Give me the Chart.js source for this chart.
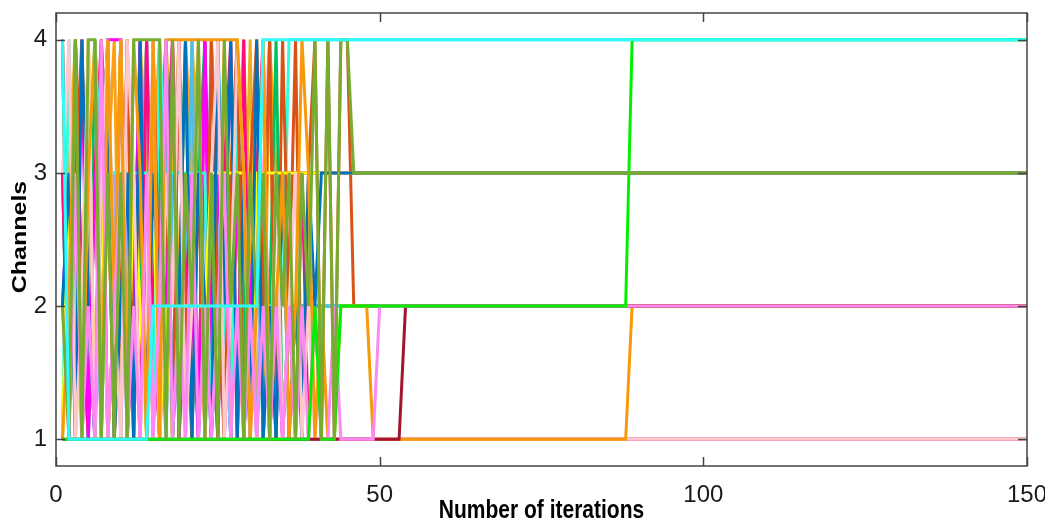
<!DOCTYPE html>
<html>
<head>
<meta charset="utf-8">
<script src="https://cdn.jsdelivr.net/npm/chart.js@4.4.1/dist/chart.umd.min.js"></script>
<style>
  html, body { margin: 0; padding: 0; background: #fff; }
</style>
</head>
<body>
<canvas id="mycanvas" width="1045" height="523"></canvas>
<script>
// channel picked by each user at iterations 1, 2, 3, ... until it settles;
// after the last entry the channel is held until the last iteration
var lastIteration = 150;
var xTicks = [0, 50, 100, 150];
var yTicks = [1, 2, 3, 4];
var xTitle = "Number of iterations";
var yTitle = "Channels";

var cyanCh = [4,1,1,1,1,1,1,1,1,1,1,1,1,1,2,2,2,2,2,2,2,2,2,2,2,2,2,2,2,2,2,4];
var oliveCh = [2,1,4,1,4,4,1,3,1,3,1,4,4,4,4,4,1,4,1,3,2,4,1,3,1,4,2,3,1,3,2,3,1,3,2,3,1,3,2,4,1,4,1,4,4,3];
var greenCh = [1,1,1,1,1,1,1,1,1,1,1,1,1,1,1,1,1,1,1,1,1,1,1,1,1,1,1,1,1,1,1,1,1,1,1,1,1,1,1,2,1,1,1,
  2,2,2,2,2,2,2,2,2,2,2,2,2,2,2,2,2,2,2,2,2,2,2,2,2,2,2,2,2,2,2,2,2,2,2,2,2,2,2,2,2,2,2,2,2,4];
var violetCh = [2,1,3,1,2,1,4,1,2,3,1,2,1,3,1,2,4,1,2,1,3,1,2,1,2,3,1,2,1,2,1,2,1,2,1,2,1,2,1,2,1,1,2,1,1,1,1,1,1,2];
var darkRedCh = [1,1,1,1,1,1,1,1,1,1,1,1,1,1,1,1,1,1,1,1,1,1,1,1,1,1,1,1,1,1,1,1,1,1,1,1,1,1,1,1,1,1,1,1,1,1,1,1,1,1,1,1,1,2];
var orangeCh = [1,2,4,1,3,4,1,4,2,4,1,4,3,1,4,1,4,4,4,4,4,4,4,4,4,4,4,4,
  3,1,2,4,1,2,3,1,2,4,3,1,2,1,1,2,2,2,2,2,1,1,1,1,1,
  1,1,1,1,1,1,1,1,1,1,1,1,1,1,1,1,1,1,1,1,1,1,1,1,1,1,1,1,1,1,1,1,1,1,1,2];
var lightPinkCh = [3,4,1,2,4,1,3,4,2,1,4,3,1,2,4,1,3,2,4,1,2,4,1,3,4,1,2,4,3,1,2,4,1,3,1,2,3,1,2,1,2,1,1];
var blueCh = [2,3,1,4,2,1,3,4,1,2,3,1,4,1,3,2,4,1,2,4,1,3,2,1,4,2,4,1,3,1,4,1,2,1,3,1,2,1,3,2,3,3];
var yellowCh = [1,3,1,2,4,1,3,1,2,4,1,3,2,1,3,1,2,1,2,2,2,2,2,3,3,3,3,3,3,1,3];
var redOrangeCh = [4,1,3,4,2,1,4,3,1,2,4,1,3,1,4,2,3,1,4,2,1,3,1,4,2,1,3,4,1,3,4,2,4,1,4,2,4,1,3,4,1,4,1,4,4,2];
var aquaCh = [1,4,2,1,3,4,3,3,3,3,3,3,3,3,1,4,3,3,3,3,3,3,3,1,4,2,1,4,1,2,2,2,2,2,2,4];
var magentaCh = [2,3,1,4,1,3,3,4,4,4,1,2,4,1,3,1,2,4,1,3,2,1,4,1,3,2,1,3,1,2,3];
var deepPinkCh = [3,1,4,2,1,3,4,1,2,4,1,3,1,4,2,1,3,4,1,2,3,1,4,2,1,3,4,1,4,1,3,4,1,2,1,2,1,3,1,2,1,1];
var lightBlueCh = [3,1,4,2,1,3,1,4,2,3,1,2,4,1,3,2,1,3,1,2,4,1,3,2,1,3,2,4,1,2,3,1,2,1,3,2];
var lavenderCh = [4,2,3,1,2,3,1,3,3,1,3,2,1,4,2,1,3,2,4,1,3,1,2,4,3,1,2,3,1,2,1,3,1,2,1,1];
var springCh = [3,1,4,2,1,4,3,1,2,4,1,3,2,4,1,3,4,1,2,4,1,3,4,1,2,3,1,4,2,1,3,1,2,4,1,2];
var tanCh = [1,3,4,1,2,4,1,3,1,4,2,1,4,3,1,3,4,3,4,1,4,3,1,2,4,1,3,1,2,4,1,2,4,1,1];
var amberCh = [4,1,4,2,4,1,4,3,4,1,4,2,4,1,3,4,1,4,2,4,3,4,1,4,2,4,1,3,4,2,4,1,4,3,3];
var rosyCh = [4,1,3,2,4,1,2,3,1,4,2,1,3,4,2,1,3,1,4,2,3,1,4,1,2,3,1,4,3,2,1,3,4,1,3];

// first entry is drawn on top
var users = [
  { ch: cyanCh, color: "#2efcfc" },
  { ch: oliveCh, color: "#77ac30" },
  { ch: greenCh, color: "#00f000" },
  { ch: violetCh, color: "#ff88f4" },
  { ch: darkRedCh, color: "#a2142f" },
  { ch: orangeCh, color: "#f7990a" },
  { ch: lightPinkCh, color: "#ffc8cc" },
  { ch: blueCh, color: "#0072bd" },
  { ch: yellowCh, color: "#ffff00" },
  { ch: redOrangeCh, color: "#d95319" },
  { ch: aquaCh, color: "#30ffd8" },
  { ch: magentaCh, color: "#ff00ff" },
  { ch: deepPinkCh, color: "#ff0a80" },
  { ch: lightBlueCh, color: "#4dbeee" },
  { ch: lavenderCh, color: "#a0a8ff" },
  { ch: springCh, color: "#00c060" },
  { ch: tanCh, color: "#e8b020" },
  { ch: amberCh, color: "#ffa010" },
  { ch: rosyCh, color: "#ffa0d0" }
];

var datasets = [];
for (var u in users) {
  var pts = [];
  var ch = users[u].ch;
  for (var i = 0; i < ch.length; i++) {
    pts.push({ x: i + 1, y: ch[i] });
  }
  pts.push({ x: lastIteration, y: ch[ch.length - 1] });
  datasets.push({
    data: pts,
    borderColor: users[u].color,
    backgroundColor: users[u].color,
    borderWidth: 3,
    pointRadius: 0,
    fill: false,
    tension: 0
  });
}

// axes box with inward ticks, plus the bold axis titles (squeezed sideways like the source)
var boxPlugin = {
  id: "box",
  afterDraw: function(chart) {
    var ctx = chart.ctx, a = chart.chartArea;
    var xs = chart.scales.x, ys = chart.scales.y;
    ctx.save();
    ctx.strokeStyle = "#444444";
    ctx.lineWidth = 1.5;
    ctx.strokeRect(a.left, a.top, a.right - a.left, a.bottom - a.top);
    ctx.beginPath();
    xTicks.forEach(function(v) {
      var px = Math.round(xs.getPixelForValue(v)) + 0.5;
      ctx.moveTo(px, a.bottom); ctx.lineTo(px, a.bottom - 9);
      ctx.moveTo(px, a.top); ctx.lineTo(px, a.top + 9);
    });
    yTicks.forEach(function(v) {
      var py = Math.round(ys.getPixelForValue(v)) + 0.5;
      ctx.moveTo(a.left, py); ctx.lineTo(a.left + 9, py);
      ctx.moveTo(a.right, py); ctx.lineTo(a.right - 9, py);
    });
    ctx.stroke();

    ctx.fillStyle = "#000";
    ctx.font = "bold 25px 'Liberation Sans', Arial, sans-serif";
    ctx.textAlign = "center";
    ctx.textBaseline = "middle";
    ctx.save();
    ctx.translate((a.left + a.right) / 2, 511);
    ctx.scale(0.84, 1);
    ctx.fillText(xTitle, 0, 0);
    ctx.restore();
    ctx.save();
    ctx.translate(20, 237);
    ctx.rotate(-Math.PI / 2);
    ctx.scale(1, 0.84);
    ctx.fillText(yTitle, 0, 0);
    ctx.restore();
    ctx.restore();
  }
};

var tickFont = { family: "'Liberation Sans', Arial, sans-serif", size: 24 };

var ctx = document.getElementById("mycanvas");
var LineGraph = new Chart(ctx, {
  type: "line",
  data: { datasets: datasets },
  options: {
    responsive: false,
    animation: false,
    layout: { padding: { left: 0, right: 18, top: 13, bottom: 0 } },
    plugins: { legend: { display: false }, tooltip: { enabled: false } },
    scales: {
      x: {
        type: "linear",
        min: 0, max: lastIteration,
        grid: { display: false, drawTicks: false },
        border: { display: false },
        afterBuildTicks: function(axis) { axis.ticks = xTicks.map(function(v) { return { value: v }; }); },
        afterFit: function(axis) { axis.height = 57; axis.paddingLeft = 0; axis.paddingRight = 0; },
        ticks: { font: tickFont, color: "#1a1a1a", padding: 15, maxRotation: 0 }
      },
      y: {
        type: "linear",
        min: 0.8, max: 4.2,
        grid: { display: false, drawTicks: false },
        border: { display: false },
        afterBuildTicks: function(axis) { axis.ticks = yTicks.map(function(v) { return { value: v }; }); },
        afterFit: function(axis) { axis.width = 56; axis.paddingTop = 0; axis.paddingBottom = 0; },
        ticks: { font: tickFont, color: "#1a1a1a", padding: 9 }
      }
    }
  },
  plugins: [boxPlugin]
});
</script>
</body>
</html>
